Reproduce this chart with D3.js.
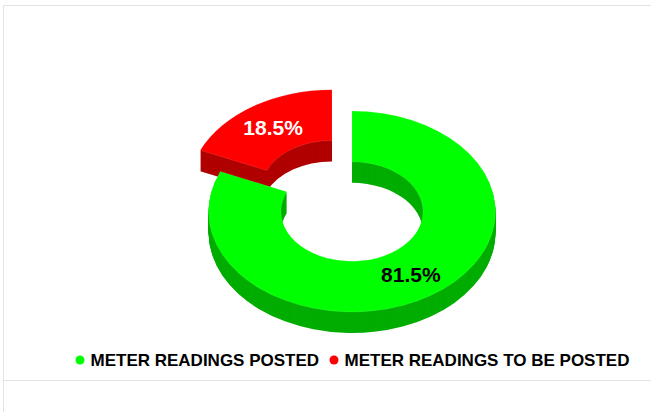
<!DOCTYPE html>
<html>
<head>
<meta charset="utf-8">
<title>Meter readings</title>
<script src="https://cdn.jsdelivr.net/npm/d3@7"></script>
<style>
  html, body { margin: 0; padding: 0; background: #fff; }
  svg { display: block; }
  text { font-family: "Liberation Sans", Arial, sans-serif; font-weight: bold; }
</style>
</head>
<body>
<script>
var categories = ["METER READINGS POSTED", "METER READINGS TO BE POSTED"];
var values = [81.5, 18.5];
var labels = ["81.5%", "18.5%"];
var topColors = ["#00ff00", "#ff0000"];
var sideColors = ["#00ad00", "#b00000"];
var labelColors = ["#000", "#fff"];
var exploded = [0, 36.5];

var w = 651, h = 412;
var cx = 352, cy = 211.5;       // centre of the top face
var outer = 143.5, inner = 71;
var tilt = 0.7;                 // vertical squash of the pie
var depth = 21;

var svg = d3.select("body").append("svg").attr("width", w).attr("height", h);

// frame lines
var frame = svg.append("g").attr("stroke", "#e3e3e3").attr("fill", "none");
frame.append("line").attr("x1", 3.5).attr("x2", w).attr("y1", 5.5).attr("y2", 5.5);
frame.append("line").attr("x1", 3.5).attr("x2", 3.5).attr("y1", 5.5).attr("y2", h);
frame.append("line").attr("x1", 3.5).attr("x2", w).attr("y1", 380.5).attr("y2", 380.5);

var pie = d3.pie().sort(null)(values);
var arc = d3.arc().innerRadius(inner).outerRadius(outer);

// red goes first so the green ring sits over its wall
var slices = svg.selectAll(".slice")
    .data(pie)
    .enter().append("g")
    .attr("class", "slice")
    .attr("transform", function(d, i) {
      var mid = (d.startAngle + d.endAngle) / 2;
      return "translate(" + (cx + exploded[i] * Math.sin(mid)) + "," + (cy - exploded[i] * Math.cos(mid) * tilt) + ")";
    })
    .sort(function(a, b) { return a.index === 1 ? -1 : 1; });

// wall: copies of the face stacked downwards
slices.each(function(d) {
  var g = d3.select(this);
  d3.range(depth, 0, -1).forEach(function(off) {
    g.append("path")
      .attr("d", arc(d))
      .attr("transform", "translate(0," + off + ") scale(1," + tilt + ")")
      .attr("fill", sideColors[d.index]);
  });
  g.append("path")
    .attr("d", arc(d))
    .attr("transform", "scale(1," + tilt + ")")
    .attr("fill", topColors[d.index])
    .attr("stroke", "#fff")
    .attr("stroke-opacity", 0.25)
    .attr("stroke-width", 0.5);
});

// value labels at mid radius
slices.append("text")
    .attr("x", function(d) { return (inner + outer) / 2 * Math.sin((d.startAngle + d.endAngle) / 2); })
    .attr("y", function(d) { return -(inner + outer) / 2 * Math.cos((d.startAngle + d.endAngle) / 2) * tilt; })
    .attr("dy", "0.36em")
    .attr("text-anchor", "middle")
    .attr("font-size", 21)
    .attr("fill", function(d) { return labelColors[d.index]; })
    .text(function(d) { return labels[d.index]; });

// legend
var legendX = d3.scalePoint().domain(categories).range([80, 334]);
var legend = svg.selectAll(".legend")
    .data(categories)
    .enter().append("g")
    .attr("class", "legend")
    .attr("transform", function(d) { return "translate(" + legendX(d) + ",360)"; });
legend.append("circle").attr("r", 4.5).attr("fill", function(d, i) { return topColors[i]; });
legend.append("text")
    .attr("x", 10.5)
    .attr("dy", "0.36em")
    .attr("font-size", 17)
    .attr("fill", "#000")
    .text(function(d) { return d; });
</script>
</body>
</html>
